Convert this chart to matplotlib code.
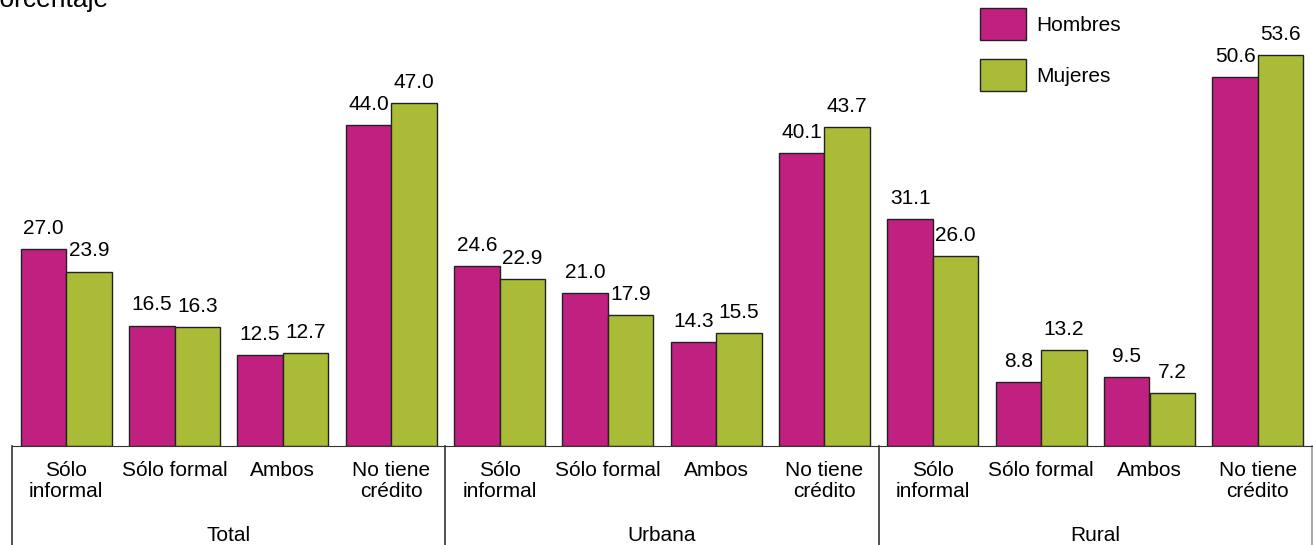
import matplotlib

matplotlib.use("Agg")
import matplotlib.pyplot as plt
import numpy as np

plt.rcParams["font.family"] = ["Liberation Sans", "DejaVu Sans"]

groups = ["Total", "Urbana", "Rural"]
categories = ["Sólo\ninformal", "Sólo formal", "Ambos", "No tiene\ncrédito"]
hombres = [27.0, 16.5, 12.5, 44.0, 24.6, 21.0, 14.3, 40.1, 31.1, 8.8, 9.5, 50.6]
mujeres = [23.9, 16.3, 12.7, 47.0, 22.9, 17.9, 15.5, 43.7, 26.0, 13.2, 7.2, 53.6]

MAGENTA = "#C02080"
GREEN = "#AABB38"
FS = 15

fig = plt.figure(figsize=(13.13, 5.45), dpi=100)
ax = fig.add_axes([12 / 1313, 99 / 545, 1300 / 1313, 446 / 545])

x = np.arange(len(hombres))
w = 0.42
b1 = ax.bar(x - w / 2, hombres, w, color=MAGENTA, edgecolor="#222222", linewidth=1, label="Hombres")
b2 = ax.bar(x + w / 2, mujeres, w, color=GREEN, edgecolor="#222222", linewidth=1, label="Mujeres")

for bars, vals in ((b1, hombres), (b2, mujeres)):
    for bar, v in zip(bars, vals):
        ax.annotate(f"{v:.1f}", (bar.get_x() + bar.get_width() / 2, v),
                    xytext=(0, 8), textcoords="offset points",
                    ha="center", va="bottom", fontsize=FS)

ax.set_xlim(-0.5, len(hombres) - 0.5)
ax.set_ylim(0, 61.1)
for side in ("top", "left", "right"):
    ax.spines[side].set_visible(False)
ax.spines["bottom"].set_color("#333333")
ax.set_yticks([])
ax.set_xticks([])

# category and group labels under the axis
trans = ax.get_xaxis_transform()
ncat = len(categories)
for i in range(len(hombres)):
    ax.text(i, -0.033, categories[i % ncat], transform=trans, ha="center", va="top",
            fontsize=FS, linespacing=1.15)
for g, name in enumerate(groups):
    ax.text(g * ncat + (ncat - 1) / 2, -0.2, name, transform=trans,
            ha="center", va="center", fontsize=FS)
for g in range(len(groups) + 1):
    xs = g * ncat - 0.5
    col = "#999999" if g == len(groups) else "#333333"
    ax.plot([xs, xs], [0, -0.25], transform=trans, color=col, lw=1.2, clip_on=False)

fig.legend(handles=[b1, b2], loc="upper left", bbox_to_anchor=(980 / 1313, 1 - 8 / 545),
           frameon=False, fontsize=FS, handlelength=2.2, handleheight=2.0,
           labelspacing=0.9, handletextpad=0.5, borderaxespad=0, borderpad=0)

fig.text(-17 / 1313, 1 - 7 / 545, "Porcentaje", ha="left", va="baseline", fontsize=19)

fig.savefig("out.png", dpi=100)
